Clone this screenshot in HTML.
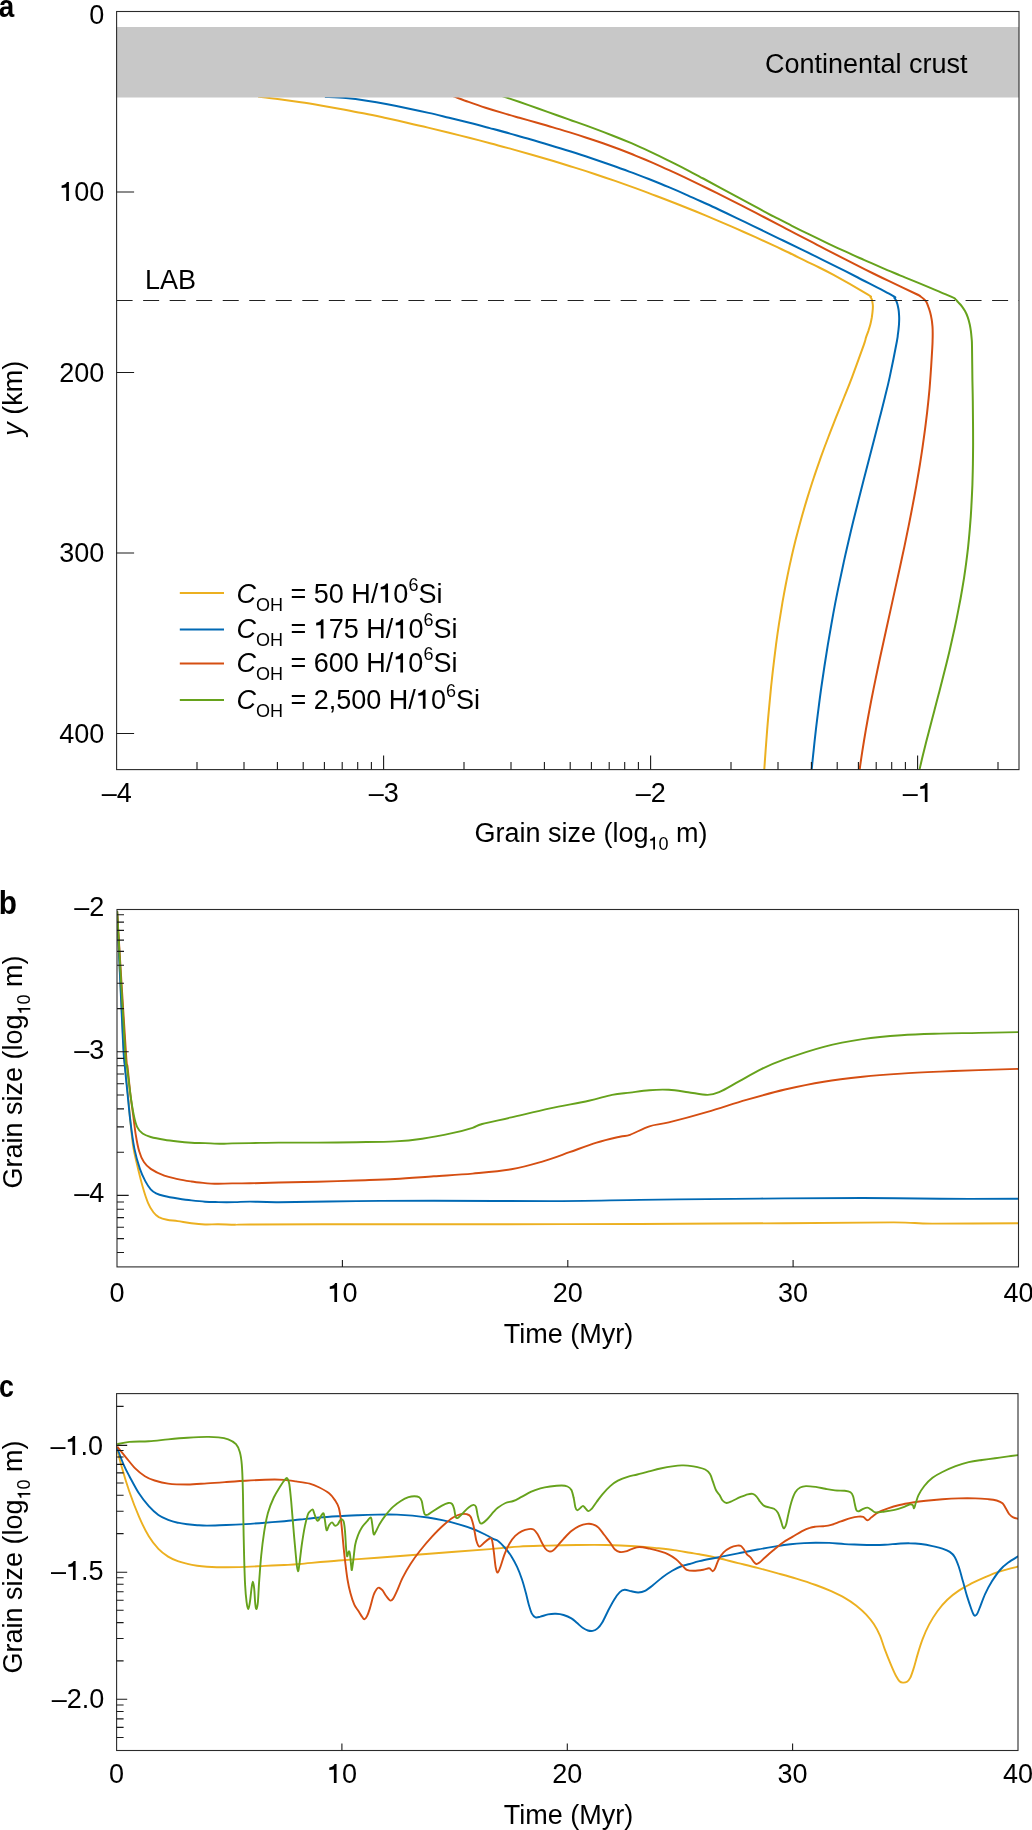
<!DOCTYPE html>
<html><head><meta charset="utf-8"><title>Grain size figure</title>
<style>html,body{margin:0;padding:0;background:#fff}body{width:1032px;height:1830px;overflow:hidden}svg{display:block;will-change:transform}text{font-family:"Liberation Sans",sans-serif;font-size:27px;fill:#000}.b{font-weight:bold;font-size:32px}.i{font-style:italic}.s{font-size:18px}.o{fill:none}.c{fill:none;stroke-linejoin:round;stroke-linecap:butt}.fr{fill:none;stroke:#2b2b2b;stroke-width:1.1}.tk{stroke:#1a1a1a;stroke-width:1.1;fill:none}</style></head><body>
<svg width="1032" height="1830" viewBox="0 0 1032 1830">
<!-- panel a -->
<clipPath id="ca"><rect x="116.6" y="97" width="902.4" height="672.6"/></clipPath>
<g clip-path="url(#ca)" style="stroke-width:2">
<path class="c" stroke="#ECB020" d="M258.2 96.7C261.7 97.1 272.4 98.3 279.5 99.3C286.6 100.2 293.7 101.2 300.8 102.3C307.9 103.3 315 104.5 322.1 105.7C329.2 106.9 336.3 108.1 343.4 109.4C350.5 110.8 357.5 112.1 364.6 113.6C371.7 115 378.7 116.5 385.8 118C392.8 119.5 399.9 121.1 406.9 122.7C414 124.3 421 125.9 428 127.6C435.1 129.3 442.1 131 449.1 132.7C456.1 134.5 463.1 136.2 470.1 138C477.1 139.8 484 141.6 491 143.5C498 145.3 504.9 147.2 511.9 149.1C518.8 151 525.7 153 532.7 155C539.6 157 546.5 159 553.4 161C560.3 163.1 567.2 165.2 574 167.4C580.9 169.5 587.8 171.7 594.6 174C601.4 176.3 608.3 178.6 615.1 180.9C621.9 183.3 628.7 185.7 635.4 188.1C642.2 190.6 649 193.1 655.7 195.7C662.5 198.2 669.2 200.8 675.9 203.5C682.6 206.1 689.3 208.8 696 211.5C702.6 214.3 709.3 217 715.9 219.8C722.6 222.7 729.2 225.5 735.8 228.4C742.4 231.3 748.9 234.2 755.5 237.2C762.1 240.2 768.6 243.2 775.1 246.2C781.6 249.3 788.1 252.3 794.6 255.5C801 258.6 807.5 261.7 813.9 264.9C820.3 268.1 824.2 269.8 833.1 274.7C842.1 279.6 861.4 290.7 867.6 294.4C873.8 298.1 869.7 296 870.4 296.8C871.1 297.6 871.4 298.4 871.7 299.2C872 300 872.2 300.7 872.4 301.9C872.6 303.1 872.9 304.9 872.9 306.6C872.9 308.3 872.7 310.3 872.5 312.1C872.3 313.9 872.1 315.5 871.8 317.5C871.4 319.5 871 322 870.4 324.3C869.8 326.6 869 328.9 868.3 331.1C867.5 333.4 866.6 335.6 865.9 337.8C865.2 340.1 866.2 338 863.9 344.6C861.6 351.2 855.2 368.8 851.9 377.6C848.6 386.5 846.7 390.8 844 397.5C841.4 404.1 838.7 410.8 836 417.4C833.4 424.1 830.7 430.8 828.2 437.5C825.6 444.2 823.1 450.9 820.7 457.7C818.3 464.5 815.9 471.2 813.7 478C811.4 484.8 809.3 491.6 807.2 498.4C805.1 505.3 803.1 512.1 801.2 519C799.3 525.8 797.5 532.7 795.7 539.6C794 546.5 792.3 553.4 790.8 560.4C789.2 567.3 787.8 574.2 786.4 581.2C785 588.2 783.8 595.1 782.5 602.1C781.3 609.1 780.2 616.1 779.1 623.1C778 630.1 777 637.2 776.1 644.2C775.2 651.3 774.3 658.3 773.5 665.4C772.6 672.4 771.9 679.5 771.1 686.6C770.4 693.7 769.7 700.8 769.1 707.9C768.4 715 767.8 722.1 767.2 729.3C766.7 736.4 766.1 743.6 765.6 750.7C765.1 757.9 764.3 768.6 764.1 772.2"/>
<path class="c" stroke="#0069B4" d="M324.9 96.9C328.4 97.1 338.8 97.5 345.8 98.1C352.8 98.8 359.7 99.7 366.7 100.7C373.6 101.7 380.5 102.9 387.4 104.2C394.3 105.5 401.2 106.9 408.1 108.4C414.9 109.8 421.8 111.3 428.6 112.9C435.5 114.4 442.3 116.1 449.1 117.7C455.9 119.4 462.7 121.1 469.5 122.8C476.3 124.5 483 126.3 489.8 128.1C496.5 129.9 503.3 131.7 510 133.6C516.7 135.5 523.4 137.3 530.1 139.3C536.8 141.2 543.5 143.2 550.1 145.2C556.8 147.2 563.4 149.2 570 151.3C576.7 153.4 583.3 155.5 589.9 157.7C596.4 159.9 603 162.2 609.6 164.5C616.2 166.8 622.7 169.1 629.2 171.6C635.8 174 642.3 176.5 648.8 179C655.3 181.6 661.8 184.2 668.2 186.9C674.7 189.6 681.2 192.4 687.6 195.3C694.1 198.1 700.5 201.1 706.9 204C713.3 206.9 719.7 210 726.1 213C732.5 216 738.8 219.1 745.2 222.1C751.5 225.2 757.9 228.3 764.2 231.3C770.5 234.4 776.8 237.5 783.1 240.5C789.4 243.6 795.7 246.6 801.9 249.7C808.2 252.7 814.4 255.8 820.6 258.8C826.9 261.9 833.1 265 839.3 268.1C845.5 271.2 849 273 857.8 277.5C866.6 282.1 886 292 892.1 295.4C898.2 298.8 893.7 296.9 894.4 297.8C895.1 298.7 895.6 299.4 896.1 300.5C896.6 301.6 897.1 303.1 897.5 304.6C897.9 306.1 898.2 307.7 898.5 309.3C898.8 310.9 898.9 312.5 899 314.1C899.1 315.7 899.2 317.1 899.2 318.8C899.2 320.5 899.1 322.5 899 324.3C898.9 326.1 898.7 327.9 898.5 329.7C898.3 331.5 898.1 333.2 897.8 335.1C897.5 337 898.2 334.3 896.9 341.2C895.6 348.1 891.8 367.3 889.8 376.6C887.8 386 886.6 390.4 884.9 397.2C883.2 404.1 881.5 411 879.7 417.8C878 424.7 876.2 431.6 874.4 438.5C872.7 445.3 870.9 452.2 869.1 459.1C867.3 465.9 865.5 472.8 863.7 479.7C862 486.6 860.2 493.4 858.5 500.3C856.7 507.2 855 514.1 853.3 521C851.7 527.9 850 534.8 848.4 541.7C846.8 548.5 845.2 555.5 843.7 562.4C842.2 569.3 840.7 576.2 839.3 583.1C837.8 590 836.5 596.9 835.1 603.9C833.8 610.8 832.5 617.8 831.3 624.7C830.1 631.7 828.9 638.6 827.7 645.6C826.6 652.5 825.5 659.5 824.4 666.5C823.3 673.5 822.3 680.5 821.3 687.5C820.3 694.5 819.4 701.5 818.5 708.6C817.6 715.6 816.7 722.6 815.9 729.7C815.1 736.7 814.3 743.8 813.6 750.9C812.8 757.9 811.8 768.6 811.4 772.1"/>
<path class="c" stroke="#D54E12" d="M451.6 95.6C454.4 96.6 462.9 99.9 468.6 101.9C474.2 103.9 479.9 105.9 485.5 107.7C491.2 109.5 496.8 111.2 502.5 112.9C508.1 114.6 513.8 116.2 519.4 117.8C525 119.4 530.6 120.9 536.2 122.5C541.8 124.1 547.4 125.7 553 127.4C558.6 129 564.2 130.7 569.8 132.4C575.3 134.1 580.9 135.9 586.4 137.7C592 139.5 597.5 141.4 603 143.3C608.5 145.3 614.1 147.3 619.5 149.3C625 151.4 630.5 153.5 636 155.8C641.4 158 646.9 160.3 652.3 162.6C657.7 165 663.1 167.4 668.5 169.9C673.9 172.3 679.3 174.8 684.7 177.4C690 179.9 695.3 182.5 700.7 185.1C706 187.7 711.3 190.3 716.6 192.9C721.9 195.6 727.1 198.2 732.4 200.9C737.6 203.5 742.9 206.2 748.1 208.9C753.3 211.6 758.6 214.3 763.8 217C769 219.7 774.2 222.4 779.4 225.1C784.6 227.9 789.8 230.6 795 233.3C800.2 236 805.4 238.7 810.6 241.4C815.8 244.2 821 246.9 826.2 249.6C831.4 252.3 836.6 254.9 841.9 257.6C847.1 260.3 852.3 262.9 857.6 265.6C862.8 268.2 868.1 270.9 873.3 273.5C878.6 276.1 882 277.8 889.2 281.2C896.3 284.6 910.9 291.4 916.2 294C921.5 296.6 919.5 295.8 920.9 296.7C922.2 297.6 923.4 298.6 924.3 299.5C925.2 300.4 925.6 300.7 926.3 301.8C926.9 302.9 927.6 304.6 928.2 306.4C928.9 308.2 929.6 310.4 930.2 312.6C930.8 314.8 931.3 317.3 931.7 319.6C932.1 321.9 932.3 324.3 932.5 326.6C932.7 328.9 932.7 331.4 932.7 333.6C932.7 335.8 932.7 337.5 932.6 339.8C932.5 342.1 932.7 340.5 932.3 347.5C931.9 354.5 930.8 372.5 930.1 381.6C929.5 390.8 928.9 395.5 928.2 402.4C927.5 409.4 926.7 416.3 925.8 423.2C925 430.1 924 437 923 443.9C922.1 450.8 921 457.6 919.9 464.5C918.8 471.4 917.6 478.2 916.4 485.1C915.2 491.9 913.9 498.8 912.6 505.6C911.3 512.5 910 519.3 908.6 526.1C907.2 532.9 905.8 539.8 904.4 546.6C902.9 553.4 901.5 560.2 900 567C898.5 573.8 897 580.6 895.5 587.4C894 594.3 892.5 601.1 891 607.9C889.5 614.7 888 621.5 886.5 628.3C885 635.1 883.5 641.9 882 648.7C880.5 655.5 879 662.4 877.6 669.2C876.2 676 874.8 682.8 873.4 689.6C872 696.5 870.7 703.3 869.4 710.2C868.1 717 866.9 723.8 865.7 730.7C864.5 737.6 863.4 744.4 862.3 751.3C861.2 758.2 859.8 768.5 859.3 771.9"/>
<path class="c" stroke="#66A21C" d="M499.8 95.2C503 96.3 512.6 99.6 519 101.8C525.4 104 531.7 106.3 538.1 108.5C544.4 110.7 550.7 113 557 115.2C563.3 117.4 569.6 119.6 575.8 121.9C582.1 124.1 588.3 126.3 594.5 128.6C600.7 130.9 606.9 133.3 613 135.7C619.2 138.1 625.3 140.6 631.4 143.2C637.4 145.8 643.5 148.6 649.5 151.4C655.5 154.2 661.5 157.1 667.5 160.1C673.5 163 679.4 166.1 685.4 169.1C691.3 172.2 697.2 175.4 703.2 178.5C709.1 181.7 715 184.9 720.9 188.1C726.8 191.3 732.7 194.5 738.6 197.7C744.5 200.9 750.4 204.1 756.3 207.2C762.2 210.4 768.1 213.6 774 216.6C780 219.7 785.9 222.8 791.9 225.8C797.8 228.8 803.8 231.8 809.8 234.7C815.7 237.6 821.7 240.5 827.7 243.3C833.7 246.2 839.7 249 845.8 251.7C851.8 254.5 857.9 257.2 863.9 259.9C870 262.6 876.1 265.2 882.2 267.8C888.3 270.5 894.4 273 900.5 275.6C906.7 278.1 910.6 279.6 919 283.1C927.4 286.6 945 294 951.1 296.7C957.2 299.4 954.5 298.6 955.7 299.5C956.9 300.4 957.1 301.1 958.1 302.2C959.1 303.3 960.8 304.9 961.9 306.4C963 307.9 964 309.3 965 311.1C966 312.9 967 315.1 967.8 317.3C968.6 319.5 969.2 322 969.7 324.3C970.2 326.6 970.6 328.9 970.9 331.2C971.2 333.5 971.4 335.7 971.6 338.2C971.8 340.7 971.9 339 972 346C972.1 353 972.3 370.9 972.4 380.1C972.6 389.3 972.7 394.1 972.8 401.1C972.9 408.1 973 415.1 973 422C973.1 429 973.1 436 973.1 443C973.1 450 973 456.9 972.9 463.9C972.8 470.9 972.6 477.8 972.4 484.8C972.1 491.7 971.8 498.7 971.4 505.6C971.1 512.5 970.6 519.5 970 526.4C969.5 533.3 968.8 540.2 968.1 547.2C967.3 554.1 966.5 561 965.5 567.9C964.6 574.8 963.5 581.7 962.3 588.5C961.2 595.4 959.9 602.3 958.5 609.1C957.2 616 955.8 622.9 954.3 629.7C952.8 636.5 951.3 643.4 949.7 650.2C948.1 657 946.4 663.8 944.7 670.6C943 677.4 941.2 684.2 939.5 691C937.7 697.8 935.9 704.5 934.2 711.3C932.4 718 930.6 724.8 928.9 731.5C927.1 738.2 925.4 744.9 923.8 751.6C922.1 758.3 919.8 768.4 919 771.7"/>
</g>
<rect x="116.6" y="27" width="902.4" height="70.5" fill="#c8c8c8"/>
<path d="M116.6 300.5H1019" stroke="#222" stroke-width="1.15" stroke-dasharray="16 10.53" fill="none"/>
<rect class="fr" x="116.6" y="11.5" width="902.4" height="758.1"/>
<path class="tk" d="M116.6 192h17.5M116.6 372.5h17.5M116.6 553h17.5M116.6 733.5h17.5M197 769.6v-7.5M244 769.6v-7.5M277.4 769.6v-7.5M303.2 769.6v-7.5M324.4 769.6v-7.5M342.2 769.6v-7.5M357.7 769.6v-7.5M371.4 769.6v-7.5M383.6 769.6v-14M464 769.6v-7.5M511 769.6v-7.5M544.4 769.6v-7.5M570.2 769.6v-7.5M591.4 769.6v-7.5M609.2 769.6v-7.5M624.7 769.6v-7.5M638.4 769.6v-7.5M650.6 769.6v-14M731 769.6v-7.5M778 769.6v-7.5M811.4 769.6v-7.5M837.2 769.6v-7.5M858.4 769.6v-7.5M876.2 769.6v-7.5M891.7 769.6v-7.5M905.4 769.6v-7.5M917.6 769.6v-14M998 769.6v-7.5"/>
<text x="104.3" y="23.5" text-anchor="end">0</text>
<text x="104.3" y="201" text-anchor="end"><tspan class="o">1</tspan>00</text>
<text x="104.3" y="381.5" text-anchor="end">200</text>
<text x="104.3" y="562" text-anchor="end">300</text>
<text x="104.3" y="742.5" text-anchor="end">400</text>
<text x="116.8" y="802" text-anchor="middle">–4</text>
<text x="383.8" y="802" text-anchor="middle">–3</text>
<text x="650.8" y="802" text-anchor="middle">–2</text>
<text x="917.8" y="802" text-anchor="middle">–<tspan class="o">1</tspan></text>
<text x="591" y="841.5" text-anchor="middle">Grain size (log<tspan class="s" dy="8"><tspan class="o">1</tspan>0</tspan><tspan dy="-8"> m)</tspan></text>
<text transform="translate(22.3 398.2) rotate(-90)" text-anchor="middle"><tspan class="i">y</tspan> (km)</text>
<text x="145" y="289">LAB</text>
<text x="765" y="72.5">Continental crust</text>
<text class="b" transform="translate(-1.2 17.3) scale(.87 1)">a</text>
<path d="M179.8 593.1H224" stroke="#ECB020" stroke-width="2.0" fill="none"/>
<text x="236.5" y="602.6"><tspan class="i">C</tspan><tspan class="s" dy="8">OH</tspan><tspan dy="-8"> = 50 H/<tspan class="o">1</tspan>0</tspan><tspan class="s" dy="-12">6</tspan><tspan dy="12">Si</tspan></text>
<path d="M179.8 629.4H224" stroke="#0069B4" stroke-width="2.0" fill="none"/>
<text x="236.5" y="638.4"><tspan class="i">C</tspan><tspan class="s" dy="8">OH</tspan><tspan dy="-8"> = <tspan class="o">1</tspan>75 H/<tspan class="o">1</tspan>0</tspan><tspan class="s" dy="-12">6</tspan><tspan dy="12">Si</tspan></text>
<path d="M179.8 663.5H224" stroke="#D54E12" stroke-width="2.0" fill="none"/>
<text x="236.5" y="672.4"><tspan class="i">C</tspan><tspan class="s" dy="8">OH</tspan><tspan dy="-8"> = 600 H/<tspan class="o">1</tspan>0</tspan><tspan class="s" dy="-12">6</tspan><tspan dy="12">Si</tspan></text>
<path d="M179.8 700H224" stroke="#66A21C" stroke-width="2.0" fill="none"/>
<text x="236.5" y="708.8"><tspan class="i">C</tspan><tspan class="s" dy="8">OH</tspan><tspan dy="-8"> = 2,500 H/<tspan class="o">1</tspan>0</tspan><tspan class="s" dy="-12">6</tspan><tspan dy="12">Si</tspan></text>
<!-- panel b -->
<clipPath id="cb"><rect x="117" y="909.5" width="901.5" height="357.4"/></clipPath>
<g clip-path="url(#cb)" style="stroke-width:1.9">
<path class="c" stroke="#ECB020" d="M117.1 911C118.1 932.5 121.8 1014 123.2 1040C124.6 1066 124.4 1058 125.2 1067.1C126 1076.1 127 1085.2 127.9 1094.3C128.8 1103.3 129.5 1112.8 130.4 1121.4C131.3 1130 132 1138.6 133.1 1145.8C134.2 1153 135.5 1158 137.1 1164.8C138.7 1171.6 140.8 1180.2 142.6 1186.5C144.4 1192.8 146.2 1198.5 148 1202.8C149.8 1207.1 151.6 1209.9 153.4 1212.3C155.2 1214.7 156.5 1215.8 158.8 1217.1C161.1 1218.3 163.8 1219.1 167 1219.8C170.2 1220.5 173.7 1220.5 177.8 1221.1C181.9 1221.7 186.9 1222.6 191.4 1223.2C195.9 1223.8 200.5 1224.3 205 1224.5C209.5 1224.7 213.5 1224.2 218.5 1224.3C223.5 1224.3 229.6 1224.8 234.8 1224.8C240.1 1224.8 229.8 1224.6 250 1224.5C270.2 1224.4 319.2 1224.3 356.3 1224.3C393.4 1224.3 425.3 1224.3 472.6 1224.3C519.9 1224.2 587.9 1224.2 640 1224C692.1 1223.8 742.7 1223.5 785 1223.2C827.3 1222.9 869.1 1222.3 893.6 1222.4C918.1 1222.5 911.4 1223.5 932.3 1223.6C953.1 1223.7 1004.3 1223.3 1018.7 1223.2"/>
<path class="c" stroke="#0069B4" d="M117.1 911C118.1 932.5 121.6 1014 122.9 1040C124.2 1066 124.1 1058 124.9 1067.1C125.7 1076.1 126.7 1085.2 127.6 1094.3C128.5 1103.3 129.3 1112.4 130.4 1121.4C131.5 1130.5 132.8 1140.7 134.4 1148.6C136 1156.5 138.1 1163.5 139.9 1168.9C141.7 1174.3 143.5 1177.7 145.3 1181.1C147.1 1184.5 148.9 1187.3 150.7 1189.3C152.5 1191.3 153.8 1192.2 156.1 1193.3C158.4 1194.4 160.7 1195.1 164.3 1196C167.9 1196.9 173.3 1197.8 177.8 1198.5C182.3 1199.2 186.9 1199.9 191.4 1200.4C195.9 1200.9 200.5 1201.4 205 1201.7C209.5 1202 213.5 1202 218.5 1202.1C223.5 1202.2 229.6 1202.2 234.8 1202.1C240.1 1202 242.7 1201.6 250 1201.6C257.3 1201.6 261.1 1202.3 278.8 1202.2C296.5 1202.1 330.5 1201.3 356.3 1201.1C382.1 1200.8 401.5 1200.7 433.8 1200.7C466.1 1200.7 515.7 1201.2 550.1 1201.1C584.5 1201 613.8 1200.2 640 1199.9C666.2 1199.6 683.3 1199.3 707.5 1199.1C731.7 1198.8 759.1 1198.6 785 1198.4C810.9 1198.2 836.8 1197.9 862.6 1198C888.5 1198.1 914.1 1198.7 940.1 1198.8C966.1 1198.9 1005.6 1198.8 1018.7 1198.8"/>
<path class="c" stroke="#D54E12" d="M117.1 911C118.5 934.2 124 1024 125.8 1050C127.5 1076 126.8 1059.7 127.6 1067.1C128.4 1074.5 129.5 1086.4 130.4 1094.3C131.3 1102.2 132.2 1107.8 133.1 1114.6C134 1121.4 134.8 1128.9 135.8 1135C136.8 1141.1 137.8 1146.8 139.2 1151.3C140.5 1155.8 142 1159.2 143.9 1162.1C145.8 1165 147.3 1166.6 150.7 1168.9C154.1 1171.2 159.8 1174 164.3 1175.7C168.8 1177.4 173.3 1178.1 177.8 1179.1C182.3 1180.1 186.9 1180.8 191.4 1181.5C195.9 1182.2 201.2 1182.7 205 1183.1C208.8 1183.5 210 1183.8 214.5 1183.8C219 1183.8 226.2 1183.5 232.1 1183.4C238 1183.3 242.2 1183.5 250 1183.3C257.8 1183.1 267.6 1182.8 278.8 1182.5C290.1 1182.2 304.6 1182 317.5 1181.7C330.4 1181.4 343.4 1181 356.3 1180.5C369.2 1180 382.1 1179.7 395 1179C407.9 1178.3 420.9 1177.2 433.8 1176.3C446.7 1175.4 459.7 1174.8 472.6 1173.6C485.5 1172.4 499.7 1171.3 511.3 1169.3C522.9 1167.3 532.6 1164.4 542.3 1161.6C552 1158.8 560.5 1155.4 569.5 1152.2C578.5 1149 588.2 1145.2 596.6 1142.6C605 1140 614.2 1138 619.8 1136.7C625.4 1135.4 625.1 1136.5 630 1134.8C634.9 1133.1 642.9 1128.4 649.4 1126.3C655.9 1124.2 659.1 1124.8 668.8 1122.4C678.5 1120 694.6 1115.7 707.5 1111.9C720.4 1108.2 733.4 1103.6 746.3 1099.9C759.2 1096.2 772.1 1092.5 785 1089.5C797.9 1086.5 810.9 1083.8 823.8 1081.7C836.7 1079.6 849.7 1078.1 862.6 1076.7C875.5 1075.3 888.4 1074.4 901.3 1073.6C914.2 1072.8 927.2 1072.2 940.1 1071.6C953 1071 965.7 1070.5 978.8 1070.1C991.9 1069.6 1012.1 1069.1 1018.7 1068.9"/>
<path class="c" stroke="#66A21C" d="M117.1 911C118.4 934.2 123.4 1024 125.1 1050C126.8 1076 126.1 1059.7 127 1067.1C127.9 1074.5 129.3 1086.4 130.4 1094.3C131.5 1102.2 132.6 1109.2 133.7 1114.6C134.8 1120 135.6 1123.6 137.1 1126.8C138.6 1130 140.3 1131.9 142.6 1133.6C144.9 1135.3 147.1 1136 150.7 1137C154.3 1138 159.8 1139 164.3 1139.7C168.8 1140.5 173.3 1141 177.8 1141.5C182.3 1142 186.9 1142.4 191.4 1142.7C195.9 1143 200 1142.9 205 1143.1C210 1143.3 216.8 1143.8 221.3 1143.8C225.8 1143.8 227.3 1143.5 232.1 1143.4C236.9 1143.3 242.2 1143.2 250 1143.1C257.8 1143 267.6 1142.7 278.8 1142.6C290.1 1142.5 304.6 1142.7 317.5 1142.6C330.4 1142.5 343.4 1142.4 356.3 1142.2C369.2 1142 384 1142 395 1141.4C406 1140.8 412.5 1140.1 422.2 1138.7C431.9 1137.3 444.8 1134.7 453.2 1132.9C461.6 1131.1 467.8 1129.3 472.6 1127.8C477.4 1126.3 475.8 1125.7 482.2 1124C488.6 1122.3 500 1120 511.3 1117.4C522.6 1114.8 537.2 1111.2 550.1 1108.4C563 1105.6 578.5 1103 588.8 1100.7C599.1 1098.5 605.2 1096.2 612.1 1094.9C619 1093.6 623.8 1093.4 630 1092.6C636.2 1091.8 642.9 1090.7 649.4 1090.2C655.9 1089.7 662.3 1089.5 668.8 1089.8C675.2 1090.1 681.6 1091.3 688.1 1092.2C694.6 1093.1 702.3 1094.9 707.5 1094.9C712.7 1094.9 713.9 1094.4 719.1 1092.2C724.3 1090 731.4 1085.6 738.5 1081.7C745.6 1077.8 754 1072.7 761.8 1068.9C769.5 1065.2 774.7 1062.9 785 1059.2C795.3 1055.5 810.9 1050.2 823.8 1046.8C836.7 1043.4 849.7 1041 862.6 1039.1C875.5 1037.2 888.4 1036.1 901.3 1035.2C914.2 1034.3 927.2 1034 940.1 1033.6C953 1033.2 965.7 1033.2 978.8 1032.9C991.9 1032.7 1012.1 1032.2 1018.7 1032.1"/>
</g>
<rect class="fr" x="117" y="909.5" width="901.5" height="357.4"/>
<path class="tk" d="M117 1051.8h11.7M117 1195.4h11.7M117 1008.6h7M117 983.3h7M117 965.3h7M117 951.4h7M117 940.1h7M117 930.4h7M117 922.1h7M117 914.8h7M117 1152.2h7M117 1126.9h7M117 1108.9h7M117 1095h7M117 1083.7h7M117 1074h7M117 1065.7h7M117 1058.4h7M117 1252.5h7M117 1238.6h7M117 1227.3h7M117 1217.6h7M117 1209.3h7M117 1202h7M342.4 1266.9v-7M567.8 1266.9v-7M793.1 1266.9v-7"/>
<text x="104.3" y="915.5" text-anchor="end">–2</text>
<text x="104.3" y="1058.8" text-anchor="end">–3</text>
<text x="104.3" y="1201.8" text-anchor="end">–4</text>
<text x="117" y="1302" text-anchor="middle">0</text>
<text x="342.4" y="1302" text-anchor="middle"><tspan class="o">1</tspan>0</text>
<text x="567.8" y="1302" text-anchor="middle">20</text>
<text x="793.1" y="1302" text-anchor="middle">30</text>
<text x="1018.5" y="1302" text-anchor="middle">40</text>
<text x="568.5" y="1342.5" text-anchor="middle">Time (Myr)</text>
<text transform="translate(22.3 1072) rotate(-90)" text-anchor="middle">Grain size (log<tspan class="s" dy="8"><tspan class="o">1</tspan>0</tspan><tspan dy="-8"> m)</tspan></text>
<text class="b" transform="translate(-1.2 913.5) scale(.93 1.01)">b</text>
<!-- panel c -->
<clipPath id="cc"><rect x="116.6" y="1393.6" width="901.4" height="356.9"/></clipPath>
<g clip-path="url(#cc)" style="stroke-width:1.9">
<path class="c" stroke="#ECB020" d="M117.2 1449.1C117.9 1452 119.6 1459.4 121.6 1466.5C123.6 1473.6 126.5 1483.3 129.4 1491.7C132.3 1500.1 135.9 1509.5 139.1 1516.9C142.3 1524.3 145.6 1531 148.8 1536.3C152 1541.6 155.2 1545.5 158.4 1548.9C161.6 1552.3 164.9 1554.6 168.1 1556.6C171.3 1558.6 174.6 1559.9 177.8 1561.1C181 1562.3 184.3 1563 187.5 1563.8C190.7 1564.6 194 1565.2 197.2 1565.7C200.4 1566.2 202.1 1566.4 206.9 1566.7C211.8 1567 219.8 1567.3 226.3 1567.3C232.8 1567.3 239.2 1567.1 245.7 1566.9C252.1 1566.7 258.6 1566.2 265 1565.9C271.4 1565.6 278.6 1565.3 284.4 1565C290.2 1564.7 290.9 1564.8 300 1564C309.1 1563.2 325.9 1561.5 338.8 1560.5C351.7 1559.5 364.6 1558.8 377.5 1557.8C390.4 1556.8 403.4 1555.7 416.3 1554.7C429.2 1553.7 442.7 1552.7 455 1551.8C467.3 1550.9 479.3 1550 490 1549.1C500.7 1548.2 509.4 1547.2 519.1 1546.6C528.8 1546 538.4 1545.9 548.1 1545.6C557.8 1545.3 567.5 1545.1 577.2 1545C586.9 1544.9 596.6 1544.8 606.3 1545C616 1545.2 627.2 1545.7 635.3 1546.2C643.4 1546.7 648.2 1547.2 654.7 1547.9C661.2 1548.6 668.2 1549.3 674.1 1550.1C680 1550.9 685.8 1552.1 690 1552.8C694.2 1553.5 694.6 1553.4 699.4 1554.3C704.2 1555.2 712.3 1556.7 718.8 1558.2C725.2 1559.7 731.6 1561.5 738.1 1563.1C744.6 1564.7 751 1566.2 757.5 1567.9C764 1569.6 770.4 1571.3 776.9 1573.1C783.4 1574.9 789.8 1576.6 796.3 1578.6C802.8 1580.6 809.9 1582.9 815.7 1585C821.5 1587.1 826.4 1589 831.2 1591.2C836 1593.4 840.5 1595.5 844.7 1597.9C848.9 1600.3 852.9 1603 856.4 1605.7C859.9 1608.5 863.1 1611.3 866 1614.4C868.9 1617.5 871.5 1620.5 873.8 1624.1C876.1 1627.6 878.2 1631.5 880 1635.7C881.8 1639.9 882.8 1644.1 884.7 1649.1C886.6 1654.1 889.4 1661.1 891.3 1665.6C893.2 1670.1 894.8 1673.7 896.2 1676.3C897.6 1678.9 898.4 1680.2 899.5 1681.2C900.6 1682.2 901.5 1682.5 902.8 1682.6C904 1682.7 905.8 1682.5 907 1681.7C908.2 1680.9 909.1 1680 910.2 1677.9C911.3 1675.8 912.2 1672.9 913.5 1668.9C914.8 1664.9 916.2 1659 917.7 1654.1C919.2 1649.1 920.7 1644.2 922.6 1639.2C924.5 1634.2 926.7 1629.1 929.2 1624.4C931.7 1619.7 934.4 1615.3 937.4 1611.2C940.4 1607.1 943.7 1603.1 947.3 1599.7C950.9 1596.3 954.7 1593.3 958.8 1590.6C962.9 1587.8 967.6 1585.5 972 1583.2C976.4 1581 980.5 1579.1 985.2 1577.1C989.9 1575.1 994.4 1573.2 1000 1571.4C1005.6 1569.6 1015.6 1567.2 1018.7 1566.4"/>
<path class="c" stroke="#0069B4" d="M117.2 1448.1C118.3 1450.8 121.6 1459.9 123.6 1464.6C125.6 1469.3 126.8 1471.4 129.4 1476.2C132 1481 135.9 1488.6 139.1 1493.6C142.3 1498.6 145.6 1502.6 148.8 1506.2C152 1509.8 155.2 1512.7 158.4 1515C161.6 1517.3 164.9 1518.5 168.1 1519.8C171.3 1521.1 174.6 1522 177.8 1522.7C181 1523.5 184.3 1523.9 187.5 1524.3C190.7 1524.7 194 1525 197.2 1525.2C200.4 1525.4 202.1 1525.6 206.9 1525.6C211.8 1525.6 219.8 1525.2 226.3 1525C232.8 1524.8 239.2 1524.5 245.7 1524.1C252.1 1523.7 258.6 1523.2 265 1522.7C271.4 1522.2 278.6 1521.7 284.4 1521.2C290.2 1520.7 294.2 1520.1 300 1519.5C305.8 1518.9 312.9 1518 319.4 1517.5C325.9 1517 332.4 1516.6 338.8 1516.2C345.2 1515.8 351.7 1515.5 358.1 1515.2C364.6 1514.9 371 1514.7 377.5 1514.6C384 1514.5 391.1 1514.4 396.9 1514.6C402.7 1514.8 407.2 1515.1 412.4 1515.6C417.6 1516.1 422.7 1516.7 427.9 1517.5C433.1 1518.3 438.2 1519.3 443.4 1520.4C448.6 1521.5 453.7 1522.8 458.9 1524.3C464.1 1525.8 469.9 1527.7 474.4 1529.5C478.9 1531.3 482.8 1533.4 486 1535C489.2 1536.6 491.8 1538.2 493.8 1539.2C495.8 1540.2 495.9 1539.2 497.8 1540.8C499.8 1542.3 503.2 1545.9 505.5 1548.5C507.8 1551.1 509.4 1553.2 511.3 1556.3C513.2 1559.4 515.3 1563 517.1 1566.9C518.9 1570.8 520.5 1575.1 522 1579.5C523.5 1583.9 524.8 1588.9 525.9 1593.1C527 1597.3 527.8 1601.3 528.8 1604.7C529.8 1608.1 530.6 1611.3 531.7 1613.4C532.8 1615.5 534 1616.8 535.5 1617.3C537 1617.8 538.3 1617.2 540.4 1616.7C542.5 1616.2 545.5 1614.9 548.1 1614.4C550.7 1613.9 553.3 1613.7 555.9 1613.8C558.5 1613.9 561 1614.2 563.6 1615C566.2 1615.8 569.1 1617 571.4 1618.3C573.7 1619.6 575.3 1621.5 577.2 1623.1C579.1 1624.7 581.2 1626.8 583 1628C584.8 1629.2 586.3 1630 587.9 1630.5C589.5 1631 591.1 1631.2 592.7 1630.9C594.3 1630.6 596 1629.9 597.6 1628.4C599.2 1627 600.6 1625.2 602.4 1622.2C604.2 1619.2 606.3 1614.2 608.2 1610.5C610.1 1606.8 612.1 1603 614 1599.9C615.9 1596.8 618 1593.8 619.8 1592.1C621.6 1590.4 622.8 1589.9 624.7 1589.8C626.7 1589.7 629.2 1590.8 631.5 1591.2C633.8 1591.7 636 1592.6 638.3 1592.5C640.5 1592.4 642.6 1592 645 1590.8C647.4 1589.6 649.9 1587.6 652.8 1585.3C655.7 1583 659.3 1579.6 662.5 1577.2C665.7 1574.8 669 1572.7 672.2 1570.8C675.4 1568.9 679 1567.1 681.9 1566C684.8 1564.9 686.8 1564.8 689.7 1564C692.6 1563.2 694.5 1562.2 699.4 1561.1C704.2 1560 712.3 1558.5 718.8 1557.2C725.2 1555.9 731.6 1554.7 738.1 1553.4C744.6 1552.1 751 1550.7 757.5 1549.5C764 1548.3 771.4 1547.1 776.9 1546.2C782.4 1545.3 786 1544.8 790.5 1544.3C795 1543.8 799.8 1543.4 804 1543.1C808.2 1542.8 811.5 1542.7 815.7 1542.7C819.9 1542.7 824.4 1542.7 829.2 1542.9C834 1543.1 839.5 1543.8 844.7 1544.1C849.9 1544.4 855.5 1544.5 860.2 1544.7C865 1544.9 869.1 1545 873.2 1545C877.3 1545 880.6 1545 884.7 1544.8C888.8 1544.6 893.8 1544 897.9 1543.7C902 1543.5 905.5 1543.2 909.4 1543.3C913.2 1543.3 917.1 1543.5 921 1544C924.9 1544.5 928.9 1545.3 932.5 1546.1C936.1 1546.9 939.5 1547.6 942.4 1548.6C945.3 1549.6 947.8 1550.5 949.8 1551.9C951.8 1553.3 953.2 1554.4 954.7 1556.9C956.2 1559.4 957.4 1562.6 958.8 1566.7C960.2 1570.8 961.6 1576.6 963 1581.6C964.4 1586.5 965.7 1591.9 967.1 1596.4C968.5 1600.9 970.1 1605.6 971.2 1608.7C972.3 1611.8 973 1613.6 973.7 1614.8C974.4 1616 974.7 1615.9 975.3 1615.7C975.9 1615.5 976.5 1615.3 977.3 1613.7C978.1 1612.1 979 1609.6 980.3 1606.3C981.6 1603 983.3 1598 985.2 1593.9C987.1 1589.8 989.3 1585.6 991.8 1581.6C994.3 1577.6 997.2 1573.2 1000 1570C1002.8 1566.8 1005.2 1564.9 1008.3 1562.6C1011.4 1560.3 1017 1557.1 1018.7 1556"/>
<path class="c" stroke="#D54E12" d="M117.2 1446.7C118.6 1448.4 122.5 1453.2 125.5 1456.8C128.5 1460.4 132 1465.2 135.2 1468.4C138.4 1471.6 141.7 1474.2 144.9 1476.2C148.1 1478.2 150.7 1479.3 154.6 1480.5C158.5 1481.7 162.6 1482.9 168.1 1483.6C173.6 1484.3 181 1484.5 187.5 1484.5C194 1484.5 200.4 1483.8 206.9 1483.4C213.4 1483 219.8 1482.5 226.3 1482C232.8 1481.5 239.2 1481.1 245.7 1480.7C252.1 1480.3 260.2 1479.9 265 1479.7C269.8 1479.5 271.5 1479.5 274.7 1479.5C277.9 1479.5 280.8 1479.6 284.4 1479.9C287.9 1480.2 291.8 1480.8 296 1481.4C300.2 1482 305.8 1482.6 309.7 1483.6C313.6 1484.6 316.2 1485.9 319.4 1487.5C322.6 1489.1 326.5 1491.2 329.1 1493.3C331.7 1495.4 333.3 1497.7 334.9 1500.1C336.5 1502.5 337.8 1504.2 338.8 1507.8C339.8 1511.3 340.4 1515.9 341.1 1521.4C341.8 1526.9 342.4 1534.3 343 1540.8C343.6 1547.3 344.2 1553.8 345 1560.2C345.8 1566.7 346.6 1574 347.5 1579.5C348.4 1585 349.3 1588.9 350.4 1593.1C351.5 1597.3 353 1601.8 354.3 1604.7C355.6 1607.6 356.8 1608.5 358.1 1610.5C359.4 1612.5 361 1615.2 362 1616.7C363 1618.2 363.5 1619.3 364.3 1619.3C365.1 1619.2 366 1618.2 366.9 1616.4C367.8 1614.6 368.7 1612.2 369.8 1608.6C370.9 1605 372.5 1598.2 373.6 1595C374.7 1591.8 375.7 1590.4 376.6 1589.2C377.5 1588 378.1 1587.5 379.1 1587.7C380.1 1587.9 381.2 1588.8 382.4 1590.2C383.6 1591.6 384.9 1594.3 386.2 1596C387.5 1597.7 389 1600 390.1 1600.5C391.2 1601 391.9 1600.5 393 1598.9C394.1 1597.4 395.3 1594.8 396.9 1591.2C398.5 1587.7 400.4 1582.1 402.7 1577.6C405 1573.1 407.6 1568.5 410.5 1564C413.4 1559.5 416.6 1555 420.2 1550.5C423.8 1546 427.9 1541.1 431.8 1536.9C435.7 1532.7 439.8 1528.5 443.4 1525.3C446.9 1522.1 450.2 1519.3 453.1 1517.5C456 1515.7 458.6 1514.8 460.9 1514.2C463.2 1513.7 465.1 1513.8 466.7 1514.2C468.3 1514.6 469.4 1514.8 470.5 1516.6C471.6 1518.4 472.4 1521.3 473.4 1525.3C474.4 1529.3 475.4 1537.2 476.4 1540.8C477.4 1544.3 478.2 1546.1 479.3 1546.6C480.4 1547.1 481.5 1545 483.1 1543.7C484.7 1542.4 487.5 1539.5 489 1538.8C490.5 1538.1 491.1 1537.5 491.9 1539.8C492.7 1542.1 493.2 1547.7 493.9 1552.4C494.5 1557.1 495.1 1564.6 495.8 1567.9C496.5 1571.2 497 1572.8 497.8 1572.5C498.6 1572.2 499.6 1569 500.7 1566C501.8 1563 503.1 1558 504.5 1554.3C505.9 1550.6 507.6 1546.8 509.4 1543.7C511.2 1540.6 513.1 1538 515.2 1535.9C517.3 1533.8 519.7 1532.2 522 1531.1C524.3 1530 526.9 1529.4 528.8 1529.1C530.7 1528.8 532.1 1528.7 533.6 1529.5C535.1 1530.3 536.2 1532 537.5 1534C538.8 1536 540.1 1539.3 541.4 1541.7C542.7 1544.1 543.9 1546.9 545.2 1548.5C546.5 1550.1 547.8 1551.1 549.1 1551.4C550.4 1551.7 551.5 1551.5 553 1550.5C554.5 1549.5 556 1547.5 557.8 1545.6C559.6 1543.6 561.3 1541.2 563.6 1538.8C565.9 1536.4 568.8 1533.2 571.4 1531.1C574 1529 576.5 1527.4 579.1 1526.2C581.7 1525 584.6 1524.2 586.9 1523.9C589.2 1523.6 590.8 1523.7 592.7 1524.3C594.6 1524.9 596.6 1525.8 598.5 1527.6C600.4 1529.4 602.3 1532.5 604.3 1535C606.2 1537.5 608.4 1540.3 610.2 1542.7C612 1545.1 613.4 1548 615 1549.5C616.6 1551 618 1551.7 619.8 1552C621.6 1552.3 623.8 1551.9 625.7 1551.4C627.7 1550.9 629.2 1549.8 631.5 1549.1C633.8 1548.4 636.3 1547.1 639.2 1547C642.1 1546.9 645.7 1547.8 648.9 1548.5C652.1 1549.2 655.4 1549.9 658.6 1550.9C661.8 1551.9 665.4 1552.9 668.3 1554.3C671.2 1555.7 673.7 1557.4 676 1559.2C678.3 1561 680.1 1563.2 681.9 1565C683.7 1566.8 684.8 1568.8 686.8 1569.8C688.8 1570.8 690.9 1570.8 693.6 1570.8C696.4 1570.8 700.7 1570.2 703.3 1569.8C705.9 1569.4 707.5 1568.1 709.1 1568.3C710.7 1568.5 711.6 1571.1 712.6 1571.2C713.6 1571.3 713.9 1570.9 714.9 1568.9C715.9 1566.9 717.3 1562 718.8 1559.2C720.2 1556.5 721.7 1554.3 723.6 1552.4C725.5 1550.5 728.1 1548.7 730.4 1547.6C732.7 1546.5 735.4 1545.9 737.2 1545.6C739 1545.3 739.9 1545.3 741 1546C742.1 1546.7 743 1548.1 744 1549.5C745 1550.9 745.8 1553 746.9 1554.3C748 1555.6 749.6 1556.4 750.7 1557.6C751.8 1558.8 752.7 1560.6 753.6 1561.7C754.5 1562.8 755.2 1563.9 756.2 1564C757.2 1564.1 758 1563.6 759.5 1562.5C761 1561.4 763 1559.2 765.3 1557.2C767.5 1555.2 770.1 1552.9 773 1550.5C775.9 1548.1 779.5 1545 782.7 1542.7C785.9 1540.4 789.2 1538.8 792.4 1536.9C795.6 1535 799.2 1532.6 802.1 1531.1C805 1529.6 807.5 1528.5 809.8 1527.8C812.1 1527 813.4 1526.9 815.7 1526.6C818 1526.3 820.8 1526.5 823.4 1526.2C826 1525.9 828.3 1525.7 831.2 1524.9C834.1 1524.1 837.7 1522.5 840.9 1521.4C844.1 1520.3 847.6 1518.9 850.5 1518.1C853.4 1517.3 856.2 1516.8 858.3 1516.6C860.4 1516.4 861.8 1516.3 863.3 1516.9C864.8 1517.5 866 1520.2 867.4 1520.3C868.8 1520.4 869.7 1518.6 871.5 1517.3C873.3 1516 875.4 1513.9 878.1 1512.4C880.9 1510.9 884.4 1509.5 888 1508.3C891.6 1507.1 895.4 1506 899.5 1505C903.6 1504 908.3 1503.2 912.7 1502.5C917.1 1501.8 921 1501.3 925.9 1500.8C930.8 1500.2 936.9 1499.6 942.4 1499.2C947.9 1498.8 953.3 1498.5 958.8 1498.4C964.3 1498.3 970.3 1498.3 975.3 1498.4C980.2 1498.5 984.9 1498.9 988.5 1499.2C992.1 1499.5 994.4 1499.8 996.7 1500.5C999 1501.2 1001 1502 1002.5 1503.3C1004 1504.6 1004.7 1506.5 1005.8 1508.3C1006.9 1510.1 1007.9 1512.5 1009.1 1514C1010.3 1515.5 1011.6 1516.5 1013.2 1517.3C1014.8 1518.1 1017.8 1518.7 1018.7 1519"/>
<path class="c" stroke="#66A21C" d="M117.2 1444.2C119.2 1443.8 124.1 1442.4 129.4 1441.9C134.7 1441.4 142.4 1441.7 148.8 1441.3C155.2 1440.9 161.7 1440 168.1 1439.4C174.5 1438.8 181 1438.2 187.5 1437.8C194 1437.4 201.7 1437 206.9 1436.9C212.1 1436.8 214.9 1437 218.5 1437.4C222.1 1437.8 225.3 1438.3 228.2 1439.4C231.1 1440.5 234.1 1442.1 236 1444.2C237.9 1446.3 238.8 1448.6 239.8 1452C240.8 1455.4 241.3 1458.6 241.8 1464.6C242.3 1470.6 242.6 1479.1 242.8 1487.8C243.1 1496.5 243.1 1505.6 243.3 1516.9C243.5 1528.2 243.8 1544.4 244.1 1555.7C244.4 1567 244.7 1577 245.1 1584.7C245.5 1592.5 246.1 1598.2 246.6 1602.2C247.1 1606.2 247.6 1609 248.2 1609C248.8 1609 249.3 1605.6 249.9 1602.2C250.5 1598.8 251 1592 251.5 1588.6C252 1585.2 252.4 1581.8 252.8 1581.8C253.2 1581.8 253.8 1584.9 254.2 1588.6C254.6 1592.3 254.9 1600.7 255.3 1604.1C255.7 1607.5 256.1 1609.3 256.5 1609C256.9 1608.7 257.4 1606.9 257.9 1602.2C258.3 1597.5 258.6 1588.7 259.2 1580.9C259.8 1573.2 260.4 1563.8 261.2 1555.7C262 1547.6 263 1539.5 264.1 1532.4C265.2 1525.3 266.3 1518.8 267.9 1513C269.5 1507.2 271.7 1502 273.8 1497.5C275.9 1493 278.6 1489 280.5 1485.9C282.4 1482.8 284.3 1480.3 285.4 1479.1C286.5 1477.9 286.6 1477.7 287.3 1478.5C288 1479.3 288.7 1480.2 289.3 1484C289.9 1487.8 290.4 1492.7 291.2 1501.4C292 1510.1 293.2 1526.3 294.1 1536.3C295 1546.3 295.8 1555.7 296.4 1561.5C297 1567.3 297.5 1570.9 298 1571.2C298.5 1571.5 298.9 1567.9 299.5 1563.4C300.1 1558.9 301 1550.1 301.9 1544C302.8 1537.9 303.8 1531.4 304.8 1526.6C305.8 1521.8 306.9 1517.5 307.7 1515C308.5 1512.5 308.9 1512.6 309.7 1511.7C310.5 1510.8 311.9 1509.2 312.6 1509.4C313.3 1509.6 313.4 1511 314 1512.7C314.6 1514.4 315.8 1518.2 316.5 1519.5C317.2 1520.8 317.6 1521.1 318.4 1520.4C319.2 1519.8 320.4 1516.8 321.3 1515.6C322.2 1514.4 323 1512.6 323.6 1513.3C324.2 1514 324.3 1516.7 324.8 1519.5C325.3 1522.3 325.9 1529.1 326.6 1530.1C327.3 1531.1 328.2 1526.6 329.1 1525.3C330 1524 331 1522.3 332 1522.4C333 1522.5 333.9 1525.4 334.9 1525.7C335.9 1526 336.8 1525.3 337.8 1524.3C338.8 1523.3 339.7 1520 340.7 1519.5C341.7 1519 342.9 1519.5 343.6 1521.4C344.3 1523.3 344.6 1526.6 345 1531.1C345.4 1535.6 345.8 1544.3 346.1 1548.5C346.5 1552.7 346.7 1555.8 347.1 1556.3C347.6 1556.8 348.3 1551.7 348.8 1551.4C349.3 1551.1 349.6 1551.9 350 1554.3C350.4 1556.7 350.9 1563.4 351.2 1566C351.5 1568.6 351.5 1570.8 351.9 1569.8C352.2 1568.8 352.8 1564.4 353.3 1560.2C353.9 1556 354.4 1548.9 355.2 1544.7C356 1540.5 357 1537.9 358.1 1535C359.2 1532.1 360.5 1529.5 362 1527.2C363.5 1524.9 365.4 1523 366.9 1521.4C368.3 1519.8 369.8 1517.2 370.7 1517.5C371.6 1517.8 371.6 1520.5 372.1 1523.3C372.6 1526 373 1532.5 373.6 1534C374.2 1535.5 374.6 1533.7 375.6 1532.1C376.6 1530.5 377.9 1527 379.5 1524.3C381.1 1521.5 383.1 1518.5 385.3 1515.6C387.6 1512.7 390.4 1509.3 393 1506.9C395.6 1504.5 398.2 1502.6 400.8 1501C403.4 1499.4 406.2 1498 408.5 1497.2C410.8 1496.4 412.5 1496.2 414.3 1496.2C416.1 1496.2 418 1496.4 419.2 1497.2C420.4 1498 421 1498.9 421.7 1501C422.4 1503.1 422.8 1507.5 423.4 1509.8C423.9 1512.1 424.2 1513.8 425 1514.6C425.8 1515.4 426.4 1515.2 427.9 1514.6C429.3 1513.9 431.4 1512.2 433.7 1510.7C436 1509.2 439.1 1507.2 441.5 1505.9C443.9 1504.6 446.5 1503.3 448.3 1503C450.1 1502.7 451.1 1503 452.1 1504C453.1 1505 453.5 1506.7 454.1 1508.8C454.7 1510.9 455 1515.1 455.6 1516.6C456.2 1518.1 456.7 1518.5 457.9 1517.9C459.1 1517.4 461 1515 462.8 1513.3C464.6 1511.5 466.8 1508.8 468.6 1507.4C470.4 1506 472.2 1505 473.4 1504.9C474.6 1504.8 475.3 1505.1 476 1506.9C476.7 1508.7 477.1 1513 477.7 1515.6C478.3 1518.2 479.1 1521.1 479.8 1522.4C480.6 1523.7 481 1523.8 482.2 1523.3C483.4 1522.8 485.1 1521.4 487 1519.5C488.9 1517.6 492 1513.7 493.8 1511.7C495.6 1509.8 495.9 1509.2 497.8 1507.8C499.8 1506.3 502.9 1504.1 505.5 1503C508.1 1501.9 510.7 1502 513.3 1501C515.9 1500 518.1 1498.7 521 1497.2C523.9 1495.7 527.5 1493.4 530.7 1491.9C533.9 1490.4 537.2 1489.3 540.4 1488.4C543.6 1487.5 546.5 1487 550.1 1486.5C553.7 1486 558.8 1485.5 561.7 1485.5C564.6 1485.5 565.9 1485.8 567.5 1486.5C569.1 1487.2 570.4 1488.1 571.4 1490C572.4 1491.9 573.1 1495.3 573.7 1498.1C574.4 1500.9 574.7 1504.9 575.3 1506.9C575.9 1508.9 576.4 1510 577.2 1510.2C578 1510.4 579.1 1508.9 580.1 1508.2C581.1 1507.5 582.1 1505.9 583 1505.9C583.9 1505.9 584.4 1507.3 585.3 1508.2C586.2 1509.1 587.3 1511 588.4 1511.1C589.5 1511.2 590.3 1510.3 591.7 1508.8C593.1 1507.3 594.8 1504.4 596.6 1502C598.4 1499.6 600.1 1497 602.4 1494.3C604.7 1491.6 607.6 1488.4 610.2 1486.1C612.8 1483.8 615 1482.2 617.9 1480.7C620.8 1479.2 624.4 1477.8 627.6 1476.8C630.8 1475.8 633.8 1475.4 637.3 1474.5C640.8 1473.6 645 1472.4 648.9 1471.4C652.8 1470.4 656.6 1469.3 660.5 1468.5C664.4 1467.7 668.6 1466.9 672.2 1466.4C675.8 1465.9 679.3 1465.5 681.9 1465.4C684.5 1465.3 685.2 1465.3 687.8 1465.6C690.4 1465.9 694.5 1466.4 697.4 1467.1C700.3 1467.8 703.1 1468.4 705.2 1469.5C707.3 1470.6 708.7 1471.9 710 1473.9C711.3 1475.9 711.9 1479 712.9 1481.7C713.9 1484.4 714.8 1487.8 715.9 1490C717 1492.2 718.6 1493.5 719.7 1495.2C720.8 1497 721.5 1499.2 722.6 1500.5C723.7 1501.8 724.9 1502.9 726.5 1503C728.1 1503.1 730 1502 732.3 1501C734.6 1500 737.5 1498.3 740.1 1497.2C742.7 1496.1 745.7 1494.8 747.8 1494.3C749.9 1493.8 751.2 1493.5 752.7 1493.9C754.2 1494.3 755.3 1495.2 756.6 1496.6C757.9 1497.9 759.1 1500.5 760.4 1502C761.7 1503.5 762.8 1505 764.3 1505.9C765.8 1506.8 767.5 1506.9 769.1 1507.4C770.7 1507.9 772.5 1507.9 774 1508.8C775.5 1509.7 776.8 1510.8 777.9 1512.7C779 1514.6 780 1518.1 780.8 1520.4C781.6 1522.7 782.1 1525.3 782.7 1526.6C783.3 1527.9 783.7 1528.6 784.3 1528.2C784.9 1527.8 785.5 1526.7 786.2 1524.3C786.9 1521.9 787.6 1517.3 788.5 1513.6C789.4 1509.9 790.3 1505.5 791.4 1502C792.5 1498.5 793.8 1494.7 795.3 1492.3C796.8 1489.9 798.4 1488.5 800.2 1487.5C802 1486.5 803.4 1486.2 806 1486.1C808.6 1486 812.5 1486.5 815.7 1486.9C818.9 1487.4 822.1 1488.2 825.3 1488.8C828.5 1489.4 831.8 1490.1 835 1490.4C838.2 1490.7 842.1 1490.5 844.7 1490.8C847.3 1491.1 849.1 1491.4 850.5 1492.3C851.9 1493.2 852.4 1494.2 853.1 1496.2C853.8 1498.2 854.2 1501.7 854.8 1504C855.3 1506.3 855.8 1509 856.4 1510.2C857 1511.4 857.6 1511.5 858.7 1511.3C859.8 1511.1 861.6 1509.4 863.1 1508.8C864.6 1508.2 866.2 1507.4 867.6 1507.6C869 1507.8 870.1 1509.1 871.5 1509.9C872.9 1510.7 873.5 1512.1 875.7 1512.4C877.9 1512.7 881.6 1511.9 884.7 1511.5C887.9 1511.1 891.6 1510.6 894.6 1509.9C897.6 1509.2 900.3 1508.3 902.8 1507.4C905.3 1506.5 907.8 1504.9 909.4 1504.5C911 1504.1 911.9 1504.4 912.7 1505C913.5 1505.6 913.5 1508.6 914 1508.3C914.5 1508 915 1505.5 915.7 1503.3C916.5 1501.1 917.1 1498 918.5 1495.1C919.9 1492.2 922 1488.9 924.3 1486C926.6 1483.1 929.5 1480.1 932.5 1477.8C935.5 1475.5 938.5 1473.9 942.4 1472C946.2 1470.1 951.2 1467.9 955.6 1466.2C960 1464.5 964.3 1463.1 968.7 1462.1C973.1 1461.1 977.5 1460.6 981.9 1460C986.3 1459.4 990.7 1458.9 995.1 1458.3C999.5 1457.7 1004.4 1457 1008.3 1456.4C1012.2 1455.9 1017 1455.2 1018.7 1455"/>
</g>
<rect class="fr" x="116.6" y="1393.6" width="901.4" height="356.9"/>
<path class="tk" d="M116.6 1445.4h10.6M116.6 1572.3h10.6M116.6 1699.2h10.6M116.6 1406.4h7M116.6 1533.6h7M116.6 1511.2h7M116.6 1495.3h7M116.6 1483h7M116.6 1472.9h7M116.6 1464.4h7M116.6 1457h7M116.6 1450.5h7M116.6 1660.9h7M116.6 1638.5h7M116.6 1622.6h7M116.6 1610.3h7M116.6 1600.2h7M116.6 1591.7h7M116.6 1584.3h7M116.6 1577.8h7M116.6 1737.5h7M116.6 1727.4h7M116.6 1718.9h7M116.6 1711.5h7M116.6 1705h7M341.9 1750.5v-7M567.3 1750.5v-7M792.6 1750.5v-7"/>
<text x="103" y="1455" text-anchor="end">–<tspan class="o">1</tspan>.0</text>
<text x="103.5" y="1580" text-anchor="end">–<tspan class="o">1</tspan>.5</text>
<text x="104.3" y="1707.7" text-anchor="end">–2.0</text>
<text x="116.6" y="1783" text-anchor="middle">0</text>
<text x="341.9" y="1783" text-anchor="middle"><tspan class="o">1</tspan>0</text>
<text x="567.3" y="1783" text-anchor="middle">20</text>
<text x="792.6" y="1783" text-anchor="middle">30</text>
<text x="1018" y="1783" text-anchor="middle">40</text>
<text x="568.5" y="1824" text-anchor="middle">Time (Myr)</text>
<text transform="translate(22.3 1557) rotate(-90)" text-anchor="middle">Grain size (log<tspan class="s" dy="8"><tspan class="o">1</tspan>0</tspan><tspan dy="-8"> m)</tspan></text>
<text class="b" transform="translate(-1 1397.4) scale(.84 1)">c</text>
<g fill="#000"><path transform="translate(59.22 201.00)" d="M7 0H9.7V-19.1H7.7C7.1-17.3 5.3-15.9 2.4-15.6V-13L7-13.5Z"/><path transform="translate(917.80 802.00)" d="M7 0H9.7V-19.1H7.7C7.1-17.3 5.3-15.9 2.4-15.6V-13L7-13.5Z"/><path transform="translate(648.53 849.50) scale(0.6667)" d="M7 0H9.7V-19.1H7.7C7.1-17.3 5.3-15.9 2.4-15.6V-13L7-13.5Z"/><path transform="translate(378.31 602.60)" d="M7 0H9.7V-19.1H7.7C7.1-17.3 5.3-15.9 2.4-15.6V-13L7-13.5Z"/><path transform="translate(313.78 638.40)" d="M7 0H9.7V-19.1H7.7C7.1-17.3 5.3-15.9 2.4-15.6V-13L7-13.5Z"/><path transform="translate(393.36 638.40)" d="M7 0H9.7V-19.1H7.7C7.1-17.3 5.3-15.9 2.4-15.6V-13L7-13.5Z"/><path transform="translate(393.33 672.40)" d="M7 0H9.7V-19.1H7.7C7.1-17.3 5.3-15.9 2.4-15.6V-13L7-13.5Z"/><path transform="translate(415.84 708.80)" d="M7 0H9.7V-19.1H7.7C7.1-17.3 5.3-15.9 2.4-15.6V-13L7-13.5Z"/><path transform="translate(327.37 1302.00)" d="M7 0H9.7V-19.1H7.7C7.1-17.3 5.3-15.9 2.4-15.6V-13L7-13.5Z"/><path transform="translate(22.3 1072) rotate(-90) translate(57.53 8.00) scale(0.6667)" d="M7 0H9.7V-19.1H7.7C7.1-17.3 5.3-15.9 2.4-15.6V-13L7-13.5Z"/><path transform="translate(65.44 1455.00)" d="M7 0H9.7V-19.1H7.7C7.1-17.3 5.3-15.9 2.4-15.6V-13L7-13.5Z"/><path transform="translate(65.94 1580.00)" d="M7 0H9.7V-19.1H7.7C7.1-17.3 5.3-15.9 2.4-15.6V-13L7-13.5Z"/><path transform="translate(326.87 1783.00)" d="M7 0H9.7V-19.1H7.7C7.1-17.3 5.3-15.9 2.4-15.6V-13L7-13.5Z"/><path transform="translate(22.3 1557) rotate(-90) translate(57.53 8.00) scale(0.6667)" d="M7 0H9.7V-19.1H7.7C7.1-17.3 5.3-15.9 2.4-15.6V-13L7-13.5Z"/></g>
</svg></body></html>
